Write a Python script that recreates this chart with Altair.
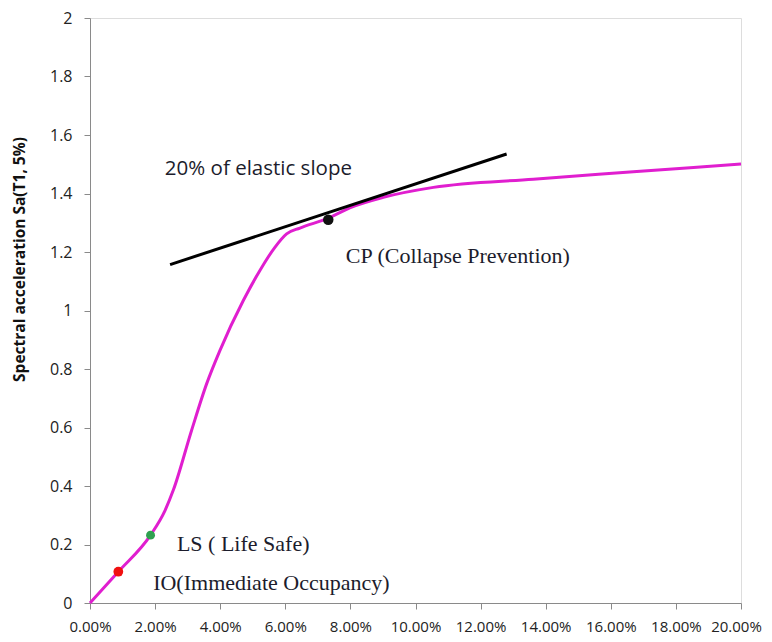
import altair as alt
import pandas as pd

# Capacity curve (x in %, y = Sa)
curve_x = [0.0, 0.87, 1.86, 2.30, 2.56, 3.12, 3.585, 3.99, 4.71, 5.22, 5.68, 6.04, 6.45, 7.30, 8.00, 9.01, 10.55, 13.62, 16.69, 20.0]
curve_y = [0.0, 0.107, 0.232, 0.315, 0.386, 0.590, 0.750, 0.863, 1.034, 1.137, 1.216, 1.262, 1.282, 1.315, 1.352, 1.387, 1.421, 1.449, 1.474, 1.501]

# 20% of elastic slope line
slope_x = [2.46, 12.80]
slope_y = [1.157, 1.535]

# performance points
pt_names = ["IO", "LS", "CP"]
pt_x = [0.87, 1.86, 7.32]
pt_y = [0.107, 0.232, 1.310]
pt_colors = ["#F01010", "#2FA050", "#111111"]
pt_sizes = [95, 80, 110]

# annotations
ann_text = ["20% of elastic slope", "CP (Collapse Prevention)", "LS ( Life Safe)", "IO(Immediate Occupancy)"]
ann_x = [2.30, 7.86, 2.67, 1.94]
ann_y = [1.485, 1.188, 0.201, 0.068]
ann_font = ["Open Sans", "Liberation Serif", "Liberation Serif", "Liberation Serif"]

x_ticks = [i / 100 for i in range(0, 21, 2)]
y_ticks = [round(i * 0.2, 1) for i in range(11)]

df_curve = pd.DataFrame({"x": [v / 100 for v in curve_x], "y": curve_y})
df_slope = pd.DataFrame({"x": [v / 100 for v in slope_x], "y": slope_y})
df_pts = pd.DataFrame({"name": pt_names, "x": [v / 100 for v in pt_x], "y": pt_y, "c": pt_colors, "s": pt_sizes})
df_ann = pd.DataFrame({"t": ann_text, "x": [v / 100 for v in ann_x], "y": ann_y, "f": ann_font})

xscale = alt.Scale(domain=[0, 0.2], nice=False, zero=False)
yscale = alt.Scale(domain=[0, 2], nice=False)

xaxis = alt.Axis(values=x_ticks, format=".2%", grid=False, labelFlush=False,
                 labelFont="Open Sans", labelFontSize=15, labelColor="#222222",
                 labelPadding=10, tickSize=6, tickColor="#8a8a8a", domainColor="#8a8a8a",
                 labelOffset={"condition": {"test": "datum.value >= 0.199", "value": -5}, "value": 0},
                 title=None, labelOverlap=False)
yaxis = alt.Axis(values=y_ticks, format="~g", grid=False,
                 labelFont="Open Sans", labelFontSize=16, labelColor="#222222",
                 labelPadding=12, tickSize=6, tickColor="#8a8a8a", domainColor="#8a8a8a",
                 title="Spectral acceleration Sa(T1, 5%)", titleFont="Open Sans",
                 titleFontSize=15.5, titleFontWeight="bold", titleColor="#111111",
                 titleX=-71, titleY=241, titleAngle=270, titleAlign="center",
                 titleBaseline="middle")

curve = alt.Chart(df_curve).mark_line(color="#E01ECF", strokeWidth=3, interpolate="monotone").encode(
    x=alt.X("x:Q", scale=xscale, axis=xaxis),
    y=alt.Y("y:Q", scale=yscale, axis=yaxis),
)

slope = alt.Chart(df_slope).mark_line(color="#000000", strokeWidth=3).encode(
    x=alt.X("x:Q", scale=xscale),
    y=alt.Y("y:Q", scale=yscale),
)

pts = alt.Chart(df_pts).mark_point(filled=True, opacity=1).encode(
    x=alt.X("x:Q", scale=xscale),
    y=alt.Y("y:Q", scale=yscale),
    color=alt.Color("c:N", scale=None),
    size=alt.Size("s:Q", scale=None),
)

ann_sans = alt.Chart(df_ann[df_ann.f == "Open Sans"]).mark_text(
    align="left", baseline="middle", font="Open Sans", fontSize=20.5, color="#1c1c2c"
).encode(x=alt.X("x:Q", scale=xscale), y=alt.Y("y:Q", scale=yscale), text="t:N")

ann_serif = alt.Chart(df_ann[df_ann.f == "Liberation Serif"]).mark_text(
    align="left", baseline="middle", font="Liberation Serif", fontSize=22, color="#1c1c2c"
).encode(x=alt.X("x:Q", scale=xscale), y=alt.Y("y:Q", scale=yscale), text="t:N")

chart = alt.layer(curve, slope, pts, ann_sans, ann_serif).properties(
    width=651, height=585,
    padding={"left": 82, "top": 10, "right": 23, "bottom": 31},
    autosize=alt.AutoSizeParams(type="none"),
).configure_view(stroke="#8a8a8a", strokeWidth=1).configure(background="white")

chart.save("out.html", embed_options={"renderer": "svg", "actions": False})
